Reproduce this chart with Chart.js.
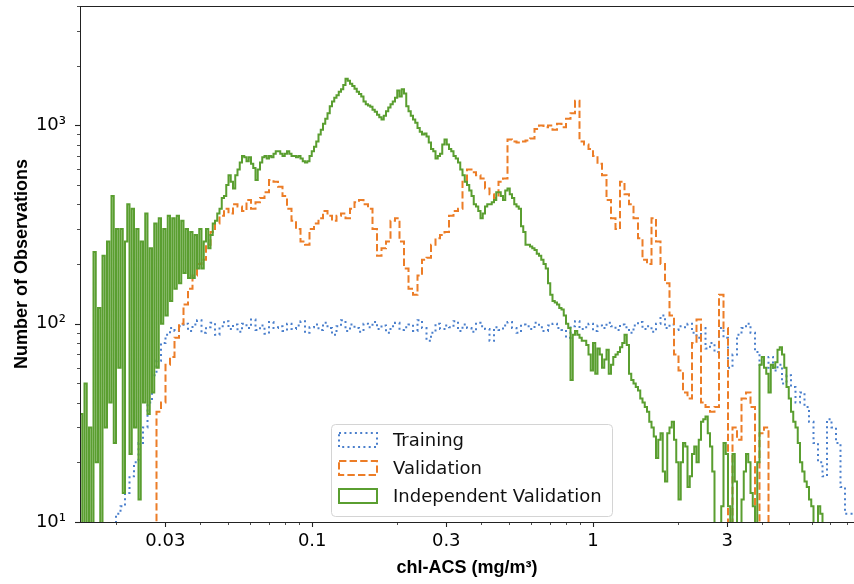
<!DOCTYPE html>
<html>
<head>
<meta charset="utf-8">
<script src="https://cdn.jsdelivr.net/npm/chart.js@4.4.1/dist/chart.umd.min.js"></script>
<style>
  html, body { margin: 0; padding: 0; background: #fff; }
</style>
</head>
<body>
<canvas id="hist" width="854" height="584"></canvas>
<script>
const seriesNames = ['Training', 'Validation', 'Independent Validation'];
const xRange = [0.0149, 8.49];   // first and last bin edge, mg/m3
const yRange = [10, 4000];

// counts per log-spaced bin (172 bins)
const training = [
  2, 2, 2, 2, 2, 2, 2, 2,
  11, 12, 14, 17, 20, 25, 30, 40, 55, 65, 80, 88, 95, 92,
  97, 100, 92, 99, 104, 90, 96, 101, 88, 97, 103, 94, 99, 91, 100, 95,
  105, 93, 98, 89, 102, 95, 97, 92, 100, 94, 98, 103, 90, 96, 99, 93,
  101, 95, 88, 97, 104, 92, 99, 95, 91, 100, 96, 102, 94, 98, 90, 97,
  101, 93, 96, 99, 92, 104, 95, 82, 90, 100, 94, 98, 96, 103, 92, 99,
  95, 91, 101, 97, 94, 82, 96, 93, 98, 102, 95, 90, 99, 97, 94, 101,
  96, 92, 98, 100, 95, 93, 85, 97, 103, 94, 96, 100, 92, 98, 95, 101,
  97, 93, 99, 96, 90, 98, 102, 94, 97, 91, 100, 110, 95, 99, 93, 97,
  96, 100, 90, 85, 95, 75, 80, 72, 95, 85, 60, 70, 88, 95, 100, 90,
  72, 62, 60, 68, 58, 62, 50, 55, 48, 40, 45, 38, 32, 25, 20, 17,
  33, 30, 25, 15, 11, 11
];
const validation = [
  2, 2, 2, 2, 2, 2, 2, 2, 2, 2, 2, 2, 2, 2, 2, 2, 2,
  36, 40, 62, 68, 85, 100, 125, 150, 175, 200, 210, 250, 290, 320, 350, 380,
  360, 400, 390, 370, 420, 380, 410, 430, 460, 530, 520, 490, 440, 380, 330, 300,
  260, 250, 300, 320, 340, 370, 350, 330, 350, 360, 340, 380, 410, 420, 400, 380,
  300, 220, 240, 260, 330, 340, 260, 190, 150, 140, 175, 210, 215, 250, 270, 280,
  290, 350, 370, 380, 520, 600, 580, 560, 540, 480, 450, 430, 520, 540, 850, 830,
  820, 830, 840, 860, 960, 1000, 980, 1000, 950, 1020, 980, 1080, 1150, 1330, 830, 800,
  760, 700, 640, 560, 420, 340, 300, 520, 450, 400, 340, 270, 210, 200, 340, 260,
  200, 160, 110, 70, 58, 45, 42, 80, 105, 40, 38, 36, 38, 140, 95, 8,
  30, 26, 42, 45, 38, 5, 28, 30, 2, 2, 2, 2, 2, 2, 2, 2,
  2, 2, 2, 2, 2, 2, 2, 2, 2, 2, 2
];
// the independent set is noisier, read at twice the bin resolution (344 bins)
const independent = [
  35, 5, 50, 5, 30, 8, 230, 20, 120, 5, 220, 30, 260, 40, 440, 25,
  300, 60, 300, 14, 260, 400, 22, 380, 30, 300, 13, 260, 40, 360, 35, 240,
  45, 320, 60, 340, 100, 300, 110, 350, 130, 340, 150, 350, 160, 330, 180, 300,
  170, 290, 170, 280, 190, 300,
  190, 260, 300, 240, 280, 320, 330, 360, 380, 430, 440, 500, 560, 520, 480, 560,
  600, 650, 700, 690, 660, 690, 640, 610, 530, 600, 650, 690, 700, 680, 700, 690,
  720, 740, 740, 720, 700, 720, 740, 720, 700, 700, 690, 700, 680, 660, 650, 660,
  700, 740, 780, 830, 900, 950, 1020, 1080, 1150, 1250, 1320, 1380, 1420, 1480, 1520, 1600,
  1720, 1680, 1620, 1580, 1530, 1480, 1440, 1400, 1320, 1280, 1260, 1240, 1200, 1170, 1130, 1100,
  1070, 1120, 1180, 1230, 1280, 1320, 1380, 1500, 1400, 1520, 1450, 1250, 1180, 1120, 1070, 1030,
  970, 930, 900, 910, 880, 820, 760, 740, 680, 700, 720, 800, 850, 800, 760, 740,
  700, 680, 650, 600, 560, 520, 500, 470, 440, 400, 390, 370, 340, 360, 390, 400,
  400, 410, 420, 460, 460, 440, 420, 470, 480, 450, 430, 400, 390, 380, 310, 290,
  250, 250, 245, 240, 235, 225, 220, 210, 200, 190, 160, 140, 130, 128, 125, 120,
  118, 110, 100, 95, 52, 88, 92, 88, 85, 82, 82, 78, 70, 58, 80, 56,
  75, 70, 60, 66, 74, 56, 62, 68, 70, 72, 76, 80, 88, 78, 56, 52,
  50, 48, 46, 42, 40, 38, 36, 32, 30, 27, 21, 26, 28, 18, 16, 28,
  30, 32, 26, 20, 13, 20, 25, 24, 15, 17, 22, 24, 20, 26, 32, 33,
  34, 28, 24, 18, 9, 6, 5, 12, 25, 22, 12, 9, 22, 16, 6, 5,
  13, 18, 22, 20, 14, 12, 5, 20, 62, 68, 60, 56, 45, 62, 60, 64,
  74, 76, 70, 60, 48, 42, 36, 32, 30, 25, 20, 18, 16, 15, 13, 12,
  6, 5, 12, 11, 6, 5, 2, 2, 2, 2, 2, 2, 2, 2, 2, 2, 2, 2
];

const xTickValues = [0.03, 0.1, 0.3, 1, 3];
const xTickLabels = ['0.03', '0.1', '0.3', '1', '3'];
const yTickValues = [10, 100, 1000];
const yTickLabels = ['10¹', '10²', '10³'];

// step outline like histtype='step' over log-spaced bins spanning xRange
function stepPoints(counts) {
  const n = counts.length;
  const lo = Math.log10(xRange[0]), hi = Math.log10(xRange[1]);
  const edges = [];
  for (let i = 0; i <= n; i++) edges.push(Math.pow(10, lo + (hi - lo) * i / n));
  const pts = [{ x: edges[0], y: 1 }];
  counts.forEach((c, i) => pts.push({ x: edges[i], y: c }));
  pts.push({ x: edges[n], y: counts[n - 1] });
  pts.push({ x: edges[n], y: 1 });
  return pts;
}

// 1..9 x 10^n positions inside a range, for major + minor tick marks
function decadeTicks(min, max) {
  const out = [];
  for (let e = Math.floor(Math.log10(min)); e <= Math.ceil(Math.log10(max)); e++) {
    for (let m = 1; m <= 9; m++) {
      const v = m * Math.pow(10, e);
      if (v >= min * 0.9999 && v <= max * 1.0001) out.push(v);
    }
  }
  return out;
}
const near = (a, b) => Math.abs(a / b - 1) < 1e-6;
function labelFor(v, vals, labels) {
  const i = vals.findIndex(t => near(v, t));
  return i >= 0 ? labels[i] : '';
}

const tickFont = { family: 'DejaVu Sans', size: 18 };
const titleFont = { family: 'Liberation Sans', size: 18, weight: 'bold', lineHeight: 1.2 };

// spines + hand drawn major/minor tick marks
const axisMarks = {
  id: 'axisMarks',
  afterDraw(chart) {
    const { ctx, chartArea: a, scales: { x, y } } = chart;
    ctx.save();
    ctx.strokeStyle = '#222';
    ctx.lineWidth = 1;
    ctx.beginPath();
    ctx.moveTo(a.left, a.top + 0.5); ctx.lineTo(a.right, a.top + 0.5);
    ctx.moveTo(a.left + 0.5, a.top); ctx.lineTo(a.left + 0.5, a.bottom);
    ctx.moveTo(a.left, a.bottom + 0.5); ctx.lineTo(a.right, a.bottom + 0.5);
    ctx.stroke();
    x.ticks.forEach(t => {
      const major = labelFor(t.value, xTickValues, xTickLabels) !== '';
      const px = Math.round(x.getPixelForValue(t.value)) + 0.5;
      ctx.lineWidth = major ? 1.1 : 0.8;
      ctx.beginPath(); ctx.moveTo(px, a.bottom); ctx.lineTo(px, a.bottom + (major ? 5 : 3)); ctx.stroke();
    });
    y.ticks.forEach(t => {
      const major = labelFor(t.value, yTickValues, yTickLabels) !== '';
      const py = Math.round(y.getPixelForValue(t.value)) + 0.5;
      ctx.lineWidth = major ? 1.1 : 0.8;
      ctx.beginPath(); ctx.moveTo(a.left, py); ctx.lineTo(a.left - (major ? 5 : 3), py); ctx.stroke();
    });
    ctx.restore();
  }
};

// legend box drawn inside the axes, lower centre
const legendBox = {
  id: 'legendBox',
  afterDraw(chart) {
    const { ctx, chartArea: a } = chart;
    const sets = chart.data.datasets;
    ctx.save();
    ctx.font = '18px "DejaVu Sans"';
    const textW = Math.max(...sets.map(d => ctx.measureText(d.label).width));
    const rowH = 28, swW = 38, swH = 14;
    const boxW = Math.round(8 + swW + 16 + textW + 10);
    const boxH = sets.length * rowH + 8;
    const bx = Math.round((a.left + a.right) / 2 - boxW / 2 + 4);
    const by = Math.round(a.bottom - 6 - boxH);
    ctx.beginPath();
    ctx.roundRect(bx + 0.5, by + 0.5, boxW, boxH, 4);
    ctx.fillStyle = 'rgba(255,255,255,0.85)';
    ctx.fill();
    ctx.strokeStyle = '#d4d4d4';
    ctx.lineWidth = 1;
    ctx.stroke();
    sets.forEach((d, i) => {
      const cy = by + 16 + i * rowH;
      ctx.setLineDash(d.borderDash || []);
      ctx.strokeStyle = d.borderColor;
      ctx.lineWidth = d.borderWidth;
      ctx.strokeRect(bx + 8, cy - swH / 2, swW, swH);
      ctx.setLineDash([]);
      ctx.fillStyle = '#111';
      ctx.textBaseline = 'middle';
      ctx.fillText(d.label, bx + 8 + swW + 16, cy + 1);
    });
    ctx.restore();
  }
};

new Chart(document.getElementById('hist'), {
  type: 'line',
  data: {
    datasets: [
      {
        label: seriesNames[0],
        data: stepPoints(training),
        borderColor: '#4a7fcc',
        borderWidth: 2,
        borderDash: [2, 3.3],
        order: 2
      },
      {
        label: seriesNames[1],
        data: stepPoints(validation),
        borderColor: '#ec7d27',
        borderWidth: 2,
        borderDash: [7.4, 3.2],
        order: 1
      },
      {
        label: seriesNames[2],
        data: stepPoints(independent),
        borderColor: '#5a9e30',
        borderWidth: 2,
        order: 0
      }
    ]
  },
  options: {
    responsive: false,
    animation: false,
    devicePixelRatio: 1,
    layout: { padding: { top: 6, right: 0, bottom: 0, left: 0 } },
    elements: {
      point: { radius: 0, hoverRadius: 0 },
      line: { stepped: true, tension: 0, fill: false }
    },
    plugins: {
      legend: { display: false },
      tooltip: { enabled: false }
    },
    scales: {
      x: {
        type: 'logarithmic',
        min: xRange[0],
        max: xRange[1],
        afterBuildTicks: s => { s.ticks = decadeTicks(xRange[0], xRange[1]).map(v => ({ value: v })); },
        afterFit: s => { s.height = 62; s.paddingLeft = 0; s.paddingRight = 0; },
        grid: { display: false },
        border: { display: false },
        ticks: {
          autoSkip: false,
          maxRotation: 0,
          padding: 1,
          color: '#000',
          font: tickFont,
          callback: v => labelFor(v, xTickValues, xTickLabels)
        },
        title: {
          display: true,
          text: 'chl-ACS (mg/m³)',
          color: '#000',
          font: titleFont,
          padding: { top: 0, bottom: 5 }
        }
      },
      y: {
        type: 'logarithmic',
        min: yRange[0],
        max: yRange[1],
        afterBuildTicks: s => { s.ticks = decadeTicks(yRange[0], yRange[1]).map(v => ({ value: v })); },
        afterFit: s => { s.width = 80; s.paddingTop = 0; s.paddingBottom = 0; },
        grid: { display: false },
        border: { display: false },
        ticks: {
          autoSkip: false,
          padding: 6,
          color: '#000',
          font: tickFont,
          callback: v => labelFor(v, yTickValues, yTickLabels)
        },
        title: {
          display: true,
          text: 'Number of Observations',
          color: '#000',
          font: titleFont,
          padding: { top: 11, bottom: 0 }
        }
      }
    }
  },
  plugins: [axisMarks, legendBox]
});
</script>
</body>
</html>
